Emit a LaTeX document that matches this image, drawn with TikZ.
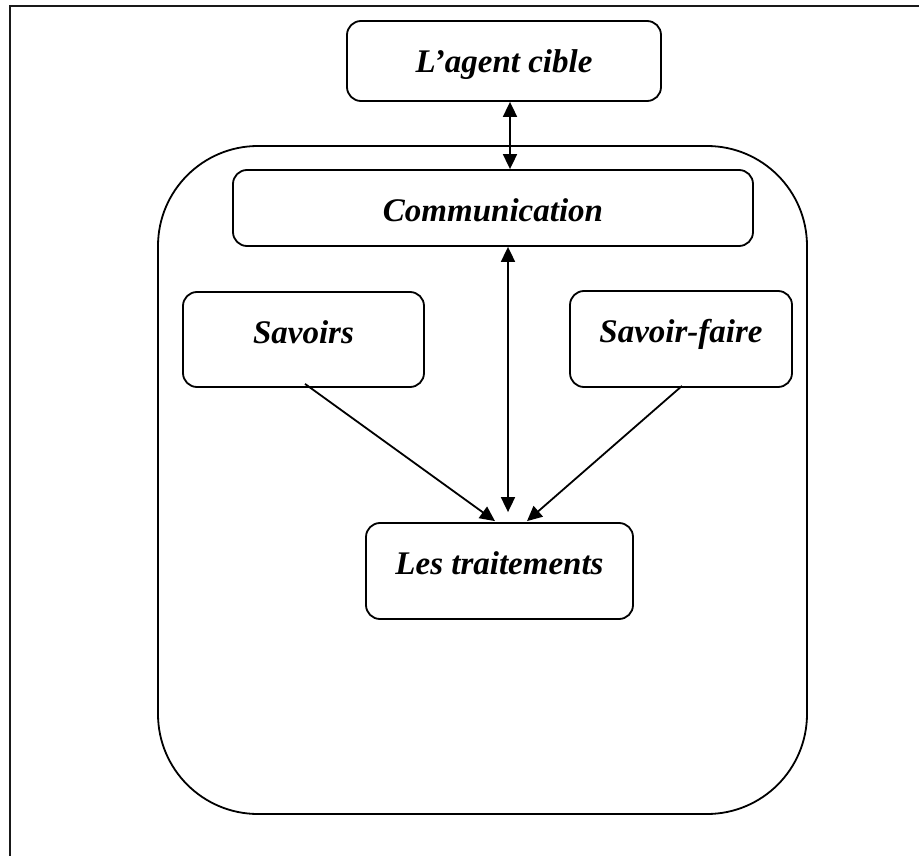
\documentclass[tikz,border=0pt]{standalone}
\usepackage{fontspec}
\setmainfont{Liberation Serif}
\usetikzlibrary{arrows.meta,calc}
\begin{document}
\begin{tikzpicture}[x=1pt,y=-1pt,
  box/.style={draw, line width=1.8pt, rounded corners=14pt, inner sep=0pt},
  lbl/.style={anchor=base, inner sep=0pt, font=\fontsize{33}{40}\selectfont\bfseries\itshape},
  tip/.style={Triangle[length=15pt,width=14pt]},
  link/.style={line width=1.8pt, -{Triangle[length=15pt,width=14pt]}},
  both/.style={line width=1.8pt, {Triangle[length=15pt,width=14pt]}-{Triangle[length=15pt,width=14pt]}}]
\useasboundingbox (0,0) rectangle (919,856);
% page frame (left and top edges)
\draw[line width=2.5pt, black!90] (10,856) -- (10,6) -- (919,6);
% large rounded container
\node[draw, line width=1.8pt, rounded corners=100pt, inner sep=0pt,
      minimum width=649pt, minimum height=668pt] (outer) at (482.5,480) {};
% boxes
\node[box, minimum width=314pt, minimum height=80pt] (agent) at (504,61) {};
\node[box, minimum width=520pt, minimum height=76pt] (com) at (493,208) {};
\node[box, minimum width=241pt, minimum height=95pt] (sav) at (303.5,339.5) {};
\node[box, minimum width=222pt, minimum height=96pt] (sf) at (681,339) {};
\node[box, minimum width=267pt, minimum height=96pt] (tr) at (499.5,571) {};
% labels
\node[lbl] at ($(agent.north)+(0,52)$) {L’agent cible};
\node[lbl] at ($(com.north)+(0,52)$) {Communication};
\node[lbl] at ($(sav.north)+(0,52)$) {Savoirs};
\node[lbl] at ($(sf.north)+(0,52)$) {Savoir-faire};
\node[lbl] at ($(tr.north)+(0,52)$) {Les traitements};
% connectors
\coordinate (ax) at (510,0);
\coordinate (vx) at (508,0);
\draw[both] (agent.south -| ax) -- (com.north -| ax);
\draw[both] (com.south -| vx) -- ($(tr.north -| vx)+(0,-10)$);
\draw[link] ($(sav.south)+(1.5,-4)$) -- ($(tr.north)+(-4.5,-1)$);
\draw[link] ($(sf.south)+(1,-2)$) -- ($(tr.north)+(27.5,-1)$);
\end{tikzpicture}
\end{document}
